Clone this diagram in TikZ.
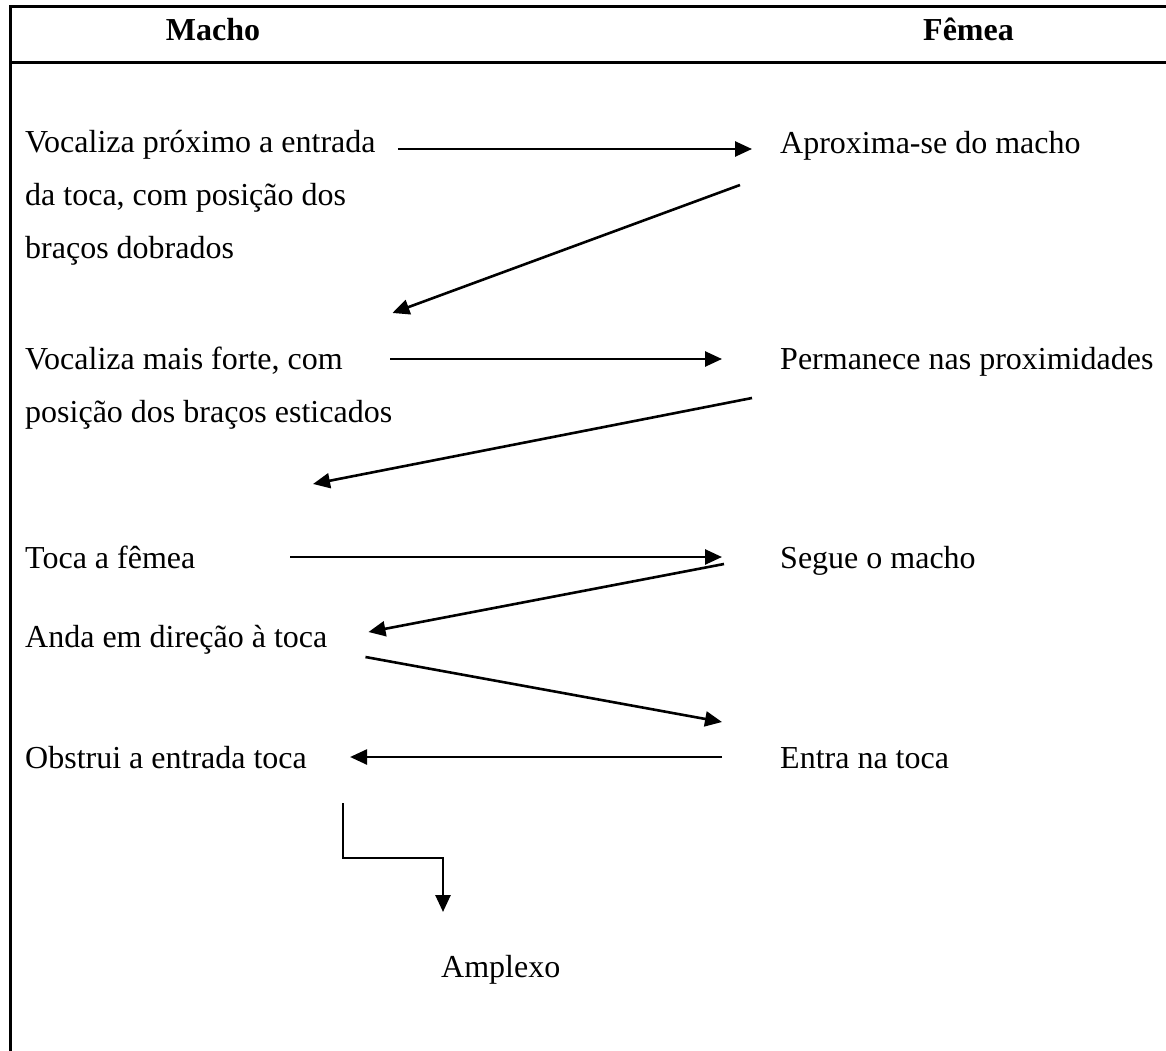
\documentclass[tikz,border=0pt]{standalone}
\usepackage{fontspec}
\setmainfont{Liberation Serif}
\usepackage{tikz}
\usetikzlibrary{arrows.meta,positioning}

\begin{document}
\begin{tikzpicture}[x=1pt,y=-1pt,
    txt/.style={anchor=base west, inner sep=0pt, font=\fontsize{32}{53}\selectfont},
    head/.style={anchor=base, inner sep=0pt, font=\fontsize{32}{53}\selectfont\bfseries},
    flow/.style={line width=2.6pt, -{Triangle[length=17pt,width=15pt]}},
    rule/.style={line width=3pt}]
    \useasboundingbox (0,0) rectangle (1166,1051);
    % frame and header line
    \draw[rule] (10,1051) -- (10,7) -- (1166,7);
    \draw[rule] (10,63) -- (1166,63);
    \node[head] (macho) at (213,41) {Macho};
    \node[head, anchor=base west] (femea) at (923,41) {Fêmea};
    % male column
    \node[txt] (m1) at (25,153) {\begin{tabular}[t]{@{}l@{}}Vocaliza próximo a entrada\\
      da toca, com posição dos\\ braços dobrados\end{tabular}};
    \node[txt] (m2) at (25,369) {\begin{tabular}[t]{@{}l@{}}Vocaliza mais forte, com\\
      posição dos braços esticados\end{tabular}};
    \node[txt] (m3) at (25,568) {Toca a fêmea};
    \node[txt] (m4) at (25,647) {Anda em direção à toca};
    \node[txt] (m5) at (25,768) {Obstrui a entrada toca};
    \node[txt] (amp) at (441,977) {Amplexo};
    % female column
    \node[txt] (f1) at (780,154) {Aproxima-se do macho};
    \node[txt] (f2) at (780,369) {Permanece nas proximidades};
    \node[txt] (f3) at (780,568) {Segue o macho};
    \node[txt] (f4) at (780,768) {Entra na toca};
    % arrows
    \draw[flow] ([shift={(22,-4)}]m1.base east) -- ([shift={(-28,-5)}]f1.base west);
    \draw[flow] ([shift={(-40,31)}]f1.base west) -- ([shift={(0,-56)}]m2.base east);
    \draw[flow] ([shift={(-2,-10)}]m2.base east) -- ([shift={(-58,-10)}]f2.base west);
    \draw[flow] ([shift={(-28,29)}]f2.base west) -- ([shift={(288,-84)}]m3.base west);
    \draw[flow] ([shift={(95,-11)}]m3.base east) -- ([shift={(-58,-11)}]f3.base west);
    \draw[flow] ([shift={(-56,-4)}]f3.base west) -- ([shift={(41,-15)}]m4.base east);
    \draw[flow] ([shift={(38,10)}]m4.base east) -- ([shift={(-58,-46)}]f4.base west);
    \draw[flow] ([shift={(-58,-11)}]f4.base west) -- ([shift={(43,-11)}]m5.base east);
    \draw[flow] ([shift={(36,35)}]m5.base east) |- ([shift={(2,-119)}]amp.base west)
      -- ([shift={(2,-65)}]amp.base west);
\end{tikzpicture}
\end{document}
